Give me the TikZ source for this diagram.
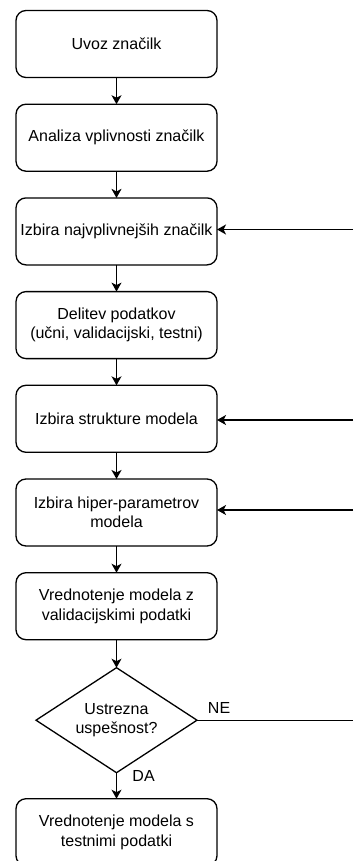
\documentclass[tikz,border=0pt]{standalone}
\usepackage{fontspec}
\setmainfont{Liberation Sans}
\usepackage{tikz}
\usetikzlibrary{positioning,shapes.geometric,arrows.meta}

\tikzset{
  korak/.style={draw, rounded corners=10pt, line width=1.3pt, fill=white,
    minimum width=201pt, minimum height=67pt, inner sep=2pt, outer sep=0pt,
    align=center},
  odlocitev/.style={draw, diamond, line width=1.3pt, fill=white, aspect=1.53,
    minimum width=161pt, minimum height=105pt, inner sep=0pt, outer sep=0pt,
    align=center},
  tok/.style={line width=1.3pt, -{Stealth[length=9pt, width=10pt, inset=2.5pt]}},
}

\begin{document}
\begin{tikzpicture}[font=\fontsize{16}{19.5}\selectfont, node distance=26.7pt]

  \useasboundingbox (0pt,0pt) rectangle (353pt,-861pt);

  % Steps
  \node[korak] (uvoz) at (116.5pt,-44pt) {Uvoz značilk}; %
  \node[korak, below=of uvoz]      (analiza)  {Analiza vplivnosti značilk}; %
  \node[korak, below=of analiza]   (izbiraz)  {Izbira najvplivnejših značilk}; %
  \node[korak, below=of izbiraz]   (delitev)  {Delitev podatkov\\(učni, validacijski, testni)}; %
  \node[korak, below=of delitev]   (struktura) {Izbira strukture modela}; %
  \node[korak, below=of struktura] (hiper)    {Izbira hiper-parametrov\\modela}; %
  \node[korak, below=of hiper]     (validacija) {Vrednotenje modela z\\validacijskimi podatki}; %

  % Decision
  \node[odlocitev, below=28pt of validacija] (uspeh) {Ustrezna\\uspešnost?}; %
  \node[korak, below=26pt of uspeh] (test) {Vrednotenje modela s\\testnimi podatki}; %

  % Feedback ends (right edge)
  \coordinate (rob) at (353pt,0pt);
  \coordinate (r-izbiraz) at (353pt,-229.5pt);
  \coordinate (r-struktura) at (353pt,-420pt);
  \coordinate (r-hiper) at (353pt,-510pt);

  % Edges
  \draw[tok] (uvoz) -- (analiza); %
  \draw[tok] (analiza) -- (izbiraz); %
  \draw[tok] (izbiraz) -- (delitev); %
  \draw[tok] (delitev) -- (struktura); %
  \draw[tok] (struktura) -- (hiper); %
  \draw[tok] (hiper) -- (validacija); %
  \draw[tok] (validacija) -- (uspeh); %
  \draw[tok] (uspeh) -- node[pos=0, anchor=west, xshift=12pt, yshift=-3pt] {DA} (test); %

  \draw[line width=1.3pt] (uspeh.east) -- node[pos=0, anchor=south west, xshift=7pt, yshift=3pt] {NE} (uspeh.east -| rob); %
  \draw[tok] (r-izbiraz) -- (izbiraz.east |- r-izbiraz); %
  \draw[tok] (r-struktura) -- (struktura.east |- r-struktura); %
  \draw[tok] (r-hiper) -- (hiper.east |- r-hiper); %

\end{tikzpicture}
\end{document}
